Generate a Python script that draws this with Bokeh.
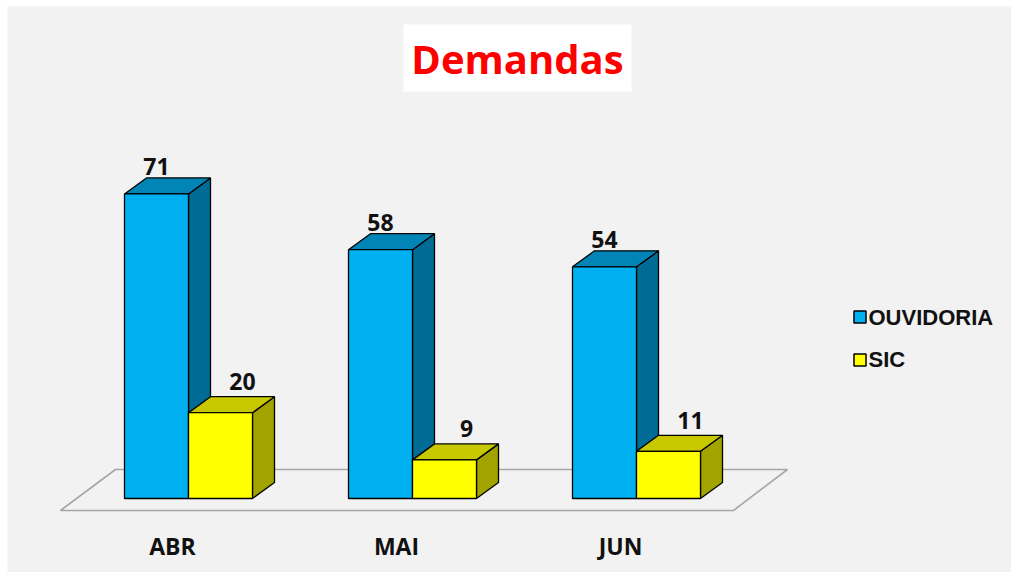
from bokeh.plotting import figure
from bokeh.models import Range1d, BoxAnnotation
from bokeh.core.properties import value
from bokeh.embed import file_html
from bokeh.resources import INLINE

# ---- data ----
months = ["ABR", "MAI", "JUN"]
ouvidoria = [71, 58, 54]
sic = [20, 9, 11]
series_names = ["OUVIDORIA", "SIC"]
title_text = "Demandas"

# ---- layout constants ----
W, H = 1011, 572
ML, MT = 7, 6                 # white border left/top
FW, FH = W - ML, H - MT       # frame size
PX, PY = 224.0, 4.29          # pixels per x unit / per value unit
BASE_PIX = 498                # image row of value 0
X0_PIX = 124                  # image column of first group
x_start = -(X0_PIX - ML) / PX
y_start = -(H - BASE_PIX) / PY
x_end = x_start + FW / PX
y_end = y_start + FH / PY

def px2x(X):
    return x_start + (X - ML) / PX

def px2y(Y):
    return y_start + (H - Y) / PY

BW = 64 / PX      # bar width
DX = 22 / PX      # depth x
DY = 16 / PY      # depth y

front_cols = ["#00b0f0", "#ffff00"]
top_cols = ["#0085b6", "#c8c800"]
side_cols = ["#006b94", "#a3a300"]

p = figure(width=W, height=H, output_backend="svg", toolbar_location=None,
           x_range=Range1d(x_start, x_end), y_range=Range1d(y_start, y_end),
           min_border_left=ML, min_border_top=MT, min_border_right=0, min_border_bottom=0,
           background_fill_color="#f2f2f2",
           border_fill_color="white", outline_line_color=None)
p.axis.visible = False
p.grid.visible = False

# floor
fx = [px2x(60), px2x(115), px2x(787), px2x(733)]
fy = [px2y(510), px2y(469), px2y(469), px2y(510)]
p.patch(fx, fy, fill_color=None, line_color="#a6a6a6", line_width=1.6)

for s, vals in enumerate([ouvidoria, sic]):
    lefts = [i + s * BW for i in range(len(months))]
    rights = [l + BW for l in lefts]
    side_xs = [[r, r + DX, r + DX, r] for r in rights]
    side_ys = [[0, DY, v + DY, v] for v in vals]
    top_xs = [[l, l + DX, r + DX, r] for l, r in zip(lefts, rights)]
    top_ys = [[v, v + DY, v + DY, v] for v in vals]
    p.patches(side_xs, side_ys, fill_color=side_cols[s], line_color="black", line_width=1.3)
    p.patches(top_xs, top_ys, fill_color=top_cols[s], line_color="black", line_width=1.3)
    p.quad(left=lefts, right=rights, bottom=0, top=vals,
           fill_color=front_cols[s], line_color="black", line_width=1.3)

# data labels (centred vertically a few pixels above the back edge)
lab_x = [i + BW / 2 for i in range(len(months))] + [i + 1.5 * BW + DX for i in range(len(months))]
lab_y = [v + DY + 11 / PY for v in ouvidoria] + [v + DY + 15 / PY for v in sic]
lab_t = [str(v) for v in ouvidoria] + [str(v) for v in sic]
p.text(x=lab_x, y=lab_y, text=lab_t, text_align="center", text_baseline="middle",
       text_font=value("Open Sans"), text_font_style="bold", text_font_size="23px",
       text_color="#111111")

# category labels
p.text(x=[i + 48 / PX for i in range(len(months))], y=[px2y(545)] * len(months), text=months,
       text_align="center", text_baseline="middle", text_font=value("Open Sans"),
       text_font_style="bold", text_font_size="23px", text_color="#111111")

# legend
leg_y = [px2y(316.5), px2y(359.5)]
p.scatter(x=[px2x(859.5)] * 2, y=leg_y, marker="square", size=12,
          fill_color=front_cols, line_color="black", line_width=1.5)
p.text(x=[px2x(868)] * 2, y=[px2y(316.5), px2y(358.5)], text=series_names,
       text_align="left", text_baseline="middle", text_font=value("Liberation Sans"),
       text_font_style="bold", text_font_size="22px", text_color="#111111")

# title
p.add_layout(BoxAnnotation(left=px2x(403), right=px2x(631), top=px2y(24), bottom=px2y(91),
                           fill_color="white", fill_alpha=1.0, line_color=None, level="underlay"))
p.text(x=[px2x(517)], y=[px2y(58)], text=[title_text], text_align="center",
       text_baseline="middle", text_font=value("Open Sans"), text_font_style="bold",
       text_font_size="40px", text_color="#ff0000")

open("out.html", "w").write(file_html(p, INLINE))
